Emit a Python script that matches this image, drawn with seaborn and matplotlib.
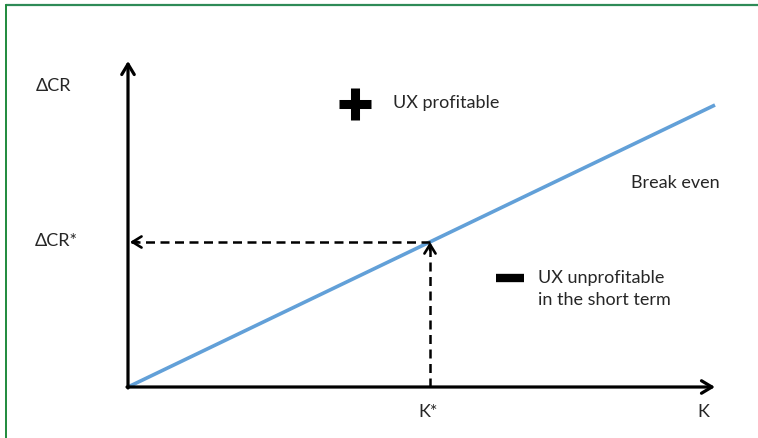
import numpy as np
import pandas as pd
import matplotlib
matplotlib.use("Agg")
import matplotlib.pyplot as plt
import seaborn as sns

# break-even line (K vs delta CR), in chart units
k_values = [0, 587]
cr_values = [0, 282]
k_star = 302
cr_star = 145
k_axis_end = 587
cr_axis_end = 326

labels = {
    "cr": "\u0394CR",
    "cr_star": "\u0394CR*",
    "k": "K",
    "k_star": "K*",
    "profit": "UX profitable",
    "loss": "UX unprofitable\nin the short term",
    "even": "Break even",
}

sns.set_style("white")
plt.rcParams["font.family"] = ["Lato", "DejaVu Sans"]

fig = plt.figure(figsize=(7.58, 4.39), dpi=100)
ax = fig.add_axes([0, 0, 1, 1])
ax.set_xlim(-128, 630)
ax.set_ylim(-51, 388)
ax.axis("off")

df = pd.DataFrame({"K": k_values, "CR": cr_values})
sns.lineplot(data=df, x="K", y="CR", color="#62a0d8", lw=2.6, ax=ax,
             solid_capstyle="butt")

# axes with arrow heads
arrow = dict(arrowstyle="->,head_length=0.75,head_width=0.45", color="black",
             lw=2.3, shrinkA=0, shrinkB=0)
ax.annotate("", xy=(0, cr_axis_end), xytext=(0, -1), arrowprops=arrow)
ax.annotate("", xy=(k_axis_end, 0), xytext=(-1, 0), arrowprops=arrow)

# dashed guides
ax.plot([k_star, 3], [cr_star, cr_star], color="black", lw=1.8,
        dashes=(3.6, 2.2))
ax.plot([k_star, k_star], [0, cr_star], color="black", lw=1.8,
        dashes=(3.6, 2.2))
small = dict(arrowstyle="->,head_length=0.65,head_width=0.4", color="black",
             lw=1.9, shrinkA=0, shrinkB=0)
ax.annotate("", xy=(2, cr_star), xytext=(10, cr_star), arrowprops=small)
ax.annotate("", xy=(k_star, cr_star), xytext=(k_star, cr_star - 8),
            arrowprops=small)

txt = dict(color="#262626", fontsize=13)
ax.text(-92, 302, labels["cr"], ha="left", va="center", **txt)
ax.text(-93, 147, labels["cr_star"], ha="left", va="center", **txt)
ax.text(k_star - 2, -24, labels["k_star"], ha="center", va="center", **txt)
ax.text(575, -24, labels["k"], ha="center", va="center", **txt)
ax.text(265, 285, labels["profit"], ha="left", va="center", **txt)
ax.text(503, 205, labels["even"], ha="left", va="center", **txt)
ax.text(410, 99, labels["loss"], ha="left", va="center",
        linespacing=1.5, **txt)

# plus / minus symbols
ax.plot([227], [283], marker="+", markersize=23, mew=6.5, color="black")
ax.plot([382], [109], marker="_", markersize=20, mew=6, color="black")

# green frame
ax.plot([-122, 640], [382, 382], color="#2e8b57", lw=1.6, clip_on=False)
ax.plot([-122, -122], [382, -60], color="#1f8a3c", lw=1.4, clip_on=False)

fig.savefig("out.png", dpi=100)
